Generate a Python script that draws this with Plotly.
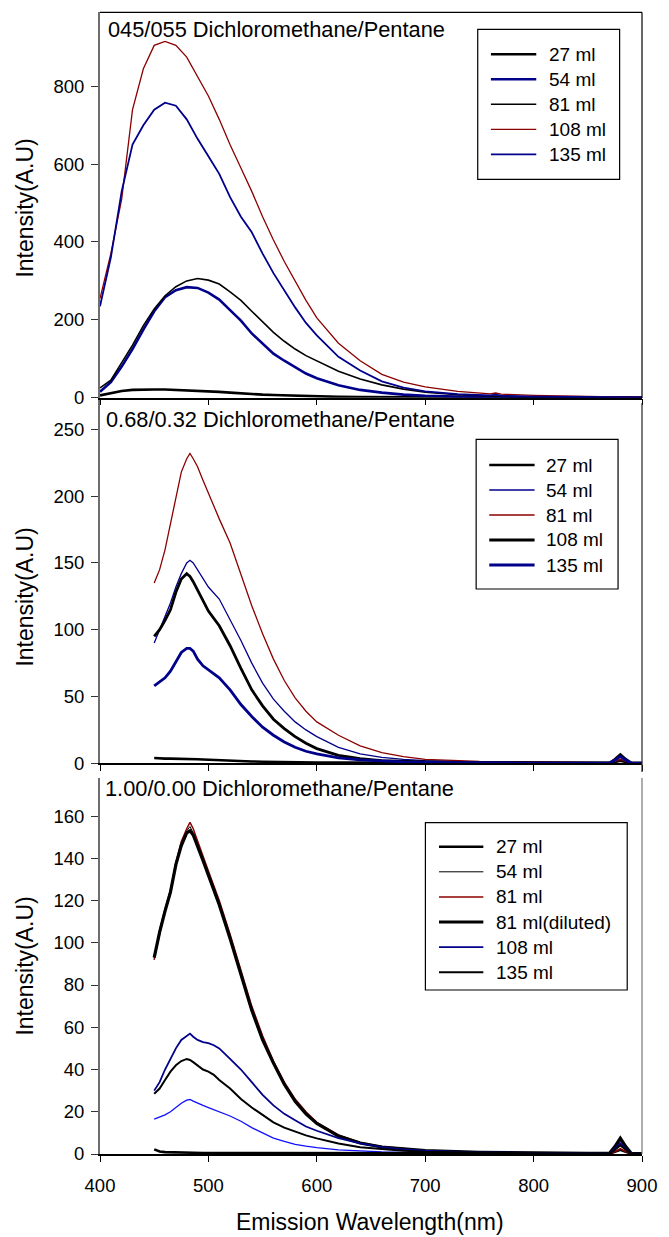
import plotly.graph_objects as go

# ---------------- Panel 1: 045/055 Dichloromethane/Pentane ----------------
wl_a = [400, 410, 420, 430, 440, 450, 460, 470, 480, 490, 500, 510, 520, 530, 540,
        550, 560, 570, 580, 590, 600, 620, 640, 660, 680, 700, 730, 760, 765, 770,
        800, 850, 900]
a_27 = [6, 12, 17, 20, 21, 21, 21, 20, 19, 18, 16, 15, 13, 11, 10,
        8, 7, 6, 5, 4, 3, 2, 1.5, 1, 1, 0.5, 0.5, 0.3, 0.3, 0.3,
        0.2, 0.1, 0]
a_54 = [15, 40, 80, 125, 175, 222, 258, 276, 284, 282, 270, 252, 225, 198, 165,
        140, 113, 95, 78, 62, 50, 32, 20, 13, 8, 5, 3, 2, 2, 2,
        1, 1, 0]
a_81 = [25, 45, 90, 135, 185, 228, 262, 285, 300, 306, 302, 292, 272, 250, 222,
        195, 168, 145, 125, 108, 95, 68, 48, 33, 22, 14, 8, 4, 4, 3,
        2, 1, 1]
a_108 = [255, 370, 510, 740, 845, 905, 915, 905, 875, 825, 775, 715, 650, 590, 530,
         465, 405, 350, 300, 250, 205, 140, 95, 60, 40, 28, 16, 10, 12, 9,
         6, 3, 1]
a_135 = [235, 360, 530, 650, 700, 740, 758, 750, 715, 665, 620, 575, 515, 465, 425,
         370, 320, 275, 232, 192, 160, 105, 70, 42, 26, 16, 9, 6, 8, 5,
         3, 2, 1]

# ---------------- Panel 2: 0.68/0.32 Dichloromethane/Pentane ----------------
wl_b = [450, 455, 460, 465, 470, 475, 480, 483, 486, 490, 495, 500, 510, 520, 530,
        540, 550, 560, 570, 580, 590, 600, 620, 640, 660, 680, 700, 750, 800, 850,
        870, 875, 880, 885, 890, 900]
b_27 = [4, 3.5, 3.5, 3.5, 3.5, 3.5, 3.5, 3.3, 3.2, 3, 2.8, 2.6, 2.3, 2, 1.7,
        1.4, 1.2, 1, 0.9, 0.8, 0.7, 0.6, 0.5, 0.4, 0.3, 0.3, 0.3, 0.3, 0.3, 0.3,
        0.3, 1, 2, 1, 0.3, 0.2]
b_54 = [90, 100, 110, 120, 132, 142, 150, 152, 150, 145, 138, 132, 123, 108, 92,
        75, 60, 48, 39, 31, 25, 20, 12, 7, 4.5, 3, 2, 1, 0.5, 0.3,
        0.3, 3, 6, 3, 0.3, 0.2]
b_81 = [135, 145, 160, 180, 200, 218, 228, 232, 228, 222, 212, 202, 183, 165, 142,
        118, 97, 78, 62, 49, 39, 31, 21, 13, 8, 5, 3, 1.5, 1, 0.5,
        0.5, 1.5, 3, 1.5, 0.5, 0.3]
b_108 = [95, 100, 107, 115, 128, 138, 142, 140, 136, 130, 122, 114, 103, 88, 71,
         55, 43, 33, 26, 20, 15, 11, 6, 3.5, 2, 1.5, 1, 0.5, 0.3, 0.2,
         0.2, 3, 6.5, 3, 0.3, 0.1]
b_135 = [58, 61, 64, 69, 76, 83, 86, 86, 84, 78, 73, 70, 64, 55, 44,
         35, 27, 21, 16, 12, 9, 7, 4, 2.5, 1.5, 1, 0.7, 0.3, 0.2, 0.1,
         0.1, 2.5, 5, 2.5, 0.2, 0.1]

# ---------------- Panel 3: 1.00/0.00 Dichloromethane/Pentane ----------------
wl_c = [450, 455, 460, 465, 470, 475, 480, 483, 486, 490, 495, 500, 505, 510, 520,
        530, 540, 550, 560, 570, 580, 590, 600, 620, 640, 660, 680, 700, 750, 800,
        850, 870, 875, 880, 885, 890, 900]
c_27 = [2.2, 1.2, 0.9, 0.8, 0.7, 0.7, 0.6, 0.6, 0.6, 0.6, 0.5, 0.5, 0.5, 0.5, 0.5,
        0.4, 0.4, 0.4, 0.4, 0.3, 0.3, 0.3, 0.3, 0.3, 0.3, 0.3, 0.3, 0.3, 0.2, 0.2,
        0.2, 0.2, 1, 2, 1, 0.2, 0.1]
c_54 = [92, 104, 115, 124, 137, 147, 153, 155, 152, 147, 140, 133, 126, 119, 103,
        86, 69, 55, 43, 33, 25.5, 19.5, 14.8, 8.8, 5.3, 3.4, 2.4, 1.6, 0.8, 0.4,
        0.3, 0.3, 3, 6, 3, 0.3, 0.2]
c_81 = [92, 106, 116, 125, 138, 148, 154, 157, 154, 148, 141, 134, 127, 120, 104,
        87, 70, 56, 44, 34, 26, 20, 15, 9, 5.5, 3.5, 2.5, 1.7, 0.8, 0.4,
        0.3, 0.3, 1, 2.5, 1, 0.3, 0.2]
c_81d = [93, 105, 115, 124, 137, 146, 152, 153, 151, 146, 139, 132, 125, 118, 102,
         85, 68, 54, 43, 33, 25, 19, 14.5, 8.5, 5.2, 3.3, 2.3, 1.6, 0.8, 0.4,
         0.3, 0.3, 3.5, 7.5, 3.5, 0.3, 0.2]
c_108 = [30, 34, 40, 45, 50, 54, 56, 57, 55.5, 54, 53, 52.5, 51.5, 50, 45,
         40, 34, 28, 23, 19, 16, 13, 11, 7.5, 5, 3.3, 2.2, 1.6, 0.8, 0.4,
         0.3, 0.3, 2.5, 5, 2.5, 0.3, 0.2]
c_135 = [28.5, 31, 35, 39, 42, 44, 45, 44.5, 43.5, 42, 40, 39, 37.5, 35, 31,
         26, 22, 18.5, 15, 12.5, 10.5, 8.8, 7.4, 5, 3.2, 2.2, 1.5, 1.1, 0.6, 0.3,
         0.2, 0.2, 2, 4, 2, 0.2, 0.1]
c_108b = [16.5, 17.5, 18.5, 20, 22, 24, 25.5, 25.8, 25, 24, 23, 22, 21, 20, 18,
          15.5, 12.5, 10, 7.5, 6, 4.6, 3.7, 3, 2, 1.4, 1, 0.8, 0.6, 0.3, 0.2,
          0.1, 0.1, 2.5, 5, 2.5, 0.1, 0]

panel_titles = ["045/055 Dichloromethane/Pentane",
                "0.68/0.32 Dichloromethane/Pentane",
                "1.00/0.00 Dichloromethane/Pentane"]
y_title = "Intensity(A.U)"
x_title = "Emission Wavelength(nm)"

BLACK = "#000000"
NAVY = "#00008B"
DARKRED = "#8B0000"
BLUE = "#1010FF"

# (name, wavelengths, intensities, colour, width, listed in key)
series_a = [("27 ml", wl_a, a_27, BLACK, 2.6, True),
            ("54 ml", wl_a, a_54, NAVY, 2.6, True),
            ("81 ml", wl_a, a_81, BLACK, 1.6, True),
            ("108 ml", wl_a, a_108, DARKRED, 1.3, True),
            ("135 ml", wl_a, a_135, NAVY, 1.8, True)]
series_b = [("27 ml", wl_b, b_27, BLACK, 2.6, True),
            ("54 ml", wl_b, b_54, NAVY, 1.3, True),
            ("81 ml", wl_b, b_81, DARKRED, 1.3, True),
            ("108 ml", wl_b, b_108, BLACK, 2.8, True),
            ("135 ml", wl_b, b_135, NAVY, 2.8, True)]
series_c = [("108 ml (b)", wl_c, c_108b, BLUE, 1.3, False),
            ("27 ml", wl_c, c_27, BLACK, 2.6, True),
            ("54 ml", wl_c, c_54, BLACK, 1.0, True),
            ("81 ml", wl_c, c_81, DARKRED, 1.5, True),
            ("81 ml(diluted)", wl_c, c_81d, BLACK, 3.2, True),
            ("108 ml", wl_c, c_108, NAVY, 1.8, True),
            ("135 ml", wl_c, c_135, BLACK, 2.0, True)]

W, H = 669, 1237
ML, MR, MT, MB = 100, 19, 12, 83
PW, PH = W - ML - MR, H - MT - MB


def clamp(v):
    return max(0.0, min(1.0, v))


def px(xp):
    return (xp - ML) / PW


def py(yp):
    return (H - MB - yp) / PH


FONT = "Liberation Sans, Arial, sans-serif"

fig = go.Figure()
axes = [("x", "y"), ("x2", "y2"), ("x3", "y3")]
for (xa, ya), group in zip(axes, [series_a, series_b, series_c]):
    for name, wl, val, color, width, _ in group:
        fig.add_trace(go.Scatter(
            x=wl, y=val, name=name, mode="lines",
            line=dict(color=color, width=width),
            xaxis=xa, yaxis=ya, showlegend=False,
        ))

tickfont = dict(family=FONT, size=18.5, color="#000000")

# vertical extents (pixel rows) of the three panels
panels = [(12.3, 397.7, 990, 200, "y", "x"),
          (400.0, 763.3, 272, 50, "y2", "x2"),
          (778.0, 1154.0, 178, 20, "y3", "x3")]

layout = dict(
    width=W, height=H,
    margin=dict(l=ML, r=MR, t=MT, b=MB),
    paper_bgcolor="white", plot_bgcolor="white",
    font=dict(family=FONT, color="#000000"),
    showlegend=False,
)

for i, (top, bot, ymax, dt, yname, xname) in enumerate(panels):
    ykey = "yaxis" if yname == "y" else "yaxis" + yname[1:]
    xkey = "xaxis" if xname == "x" else "xaxis" + xname[1:]
    layout[ykey] = dict(
        domain=[clamp(py(bot)), clamp(py(top))], range=[0, ymax], anchor=xname,
        dtick=dt, tick0=0, showgrid=False, zeroline=False,
        showline=True, linecolor="#6e6e6e", linewidth=2,
        ticks="outside", ticklen=7, tickwidth=1.2, tickcolor="#333333",
        tickfont=tickfont, ticklabelstandoff=3,
    )
    layout[xkey] = dict(
        domain=[0, 1], range=[400, 900], anchor=yname,
        dtick=100, tick0=400, showgrid=False, zeroline=False,
        showline=True, linecolor="#000000", linewidth=1.5,
        ticks="outside", ticklen=6, tickwidth=1.2, tickcolor="#000000",
        tickfont=tickfont, showticklabels=(i == 2), ticklabelstandoff=8,
    )

shapes = []
annotations = []

# keys: box (left, top, right, bottom), first row centre, row step,
# sample line start / end and text start (all in pixels)
keys = [((483.3, 29.3, 627.3, 179.3), 54.3, 25.0, 496.7, 542.7, 553.3, series_a),
        ((481.7, 439.3, 625.7, 589.0), 465.0, 25.0, 495.0, 541.0, 551.0, series_b),
        ((430.2, 822.7, 635.0, 990.0), 846.7, 25.1, 444.0, 489.0, 500.0, series_c)]
for (x0, y0, x1, y1), row0, step, lx0, lx1, tx, group in keys:
    shapes.append(dict(type="rect", xref="paper", yref="paper",
                       x0=px(x0), x1=px(x1), y0=py(y1), y1=py(y0),
                       line=dict(color="#000000", width=1.2),
                       fillcolor="white", layer="above"))
    listed = [s for s in group if s[5]]
    for k, (name, _, _, color, width, _) in enumerate(listed):
        ry = row0 + step * k
        shapes.append(dict(type="line", xref="paper", yref="paper",
                           x0=px(lx0), x1=px(lx1), y0=py(ry), y1=py(ry),
                           line=dict(color=color, width=width), layer="above"))
        annotations.append(dict(text=name, x=px(tx), y=py(ry), xref="paper", yref="paper",
                                xanchor="left", yanchor="middle", showarrow=False,
                                font=dict(family=FONT, size=19, color="#000000")))

# frame lines: top of panel 1 and right-hand borders
shapes.append(dict(type="line", xref="paper", yref="paper",
                   x0=0, x1=1, y0=py(12.3), y1=py(12.3),
                   line=dict(color="#000000", width=1.2)))
shapes.append(dict(type="line", xref="paper", yref="paper",
                   x0=1, x1=1, y0=py(398), y1=py(12.3),
                   line=dict(color="#000000", width=1.2)))
shapes.append(dict(type="line", xref="paper", yref="paper",
                   x0=1, x1=1, y0=py(772), y1=py(403),
                   line=dict(color="#222222", width=1.2)))
shapes.append(dict(type="line", xref="paper", yref="paper",
                   x0=1, x1=1, y0=py(1154), y1=py(778),
                   line=dict(color="#777777", width=1.2)))
layout["shapes"] = shapes

title_pos = [(106, 29.5), (104, 420), (103, 788.5)]
for t, (tx, ty) in zip(panel_titles, title_pos):
    annotations.append(dict(text=t, x=px(tx), y=py(ty), xref="paper", yref="paper",
                            xanchor="left", yanchor="middle", showarrow=False,
                            font=dict(family=FONT, size=21.8, color="#000000")))
for cy in [208, 597, 966]:
    annotations.append(dict(text=y_title, x=px(23.5), y=py(cy), xref="paper", yref="paper",
                            xanchor="center", yanchor="middle", textangle=-90,
                            showarrow=False,
                            font=dict(family=FONT, size=23, color="#000000")))
annotations.append(dict(text=x_title, x=px(374), y=py(1222), xref="paper", yref="paper",
                        xanchor="center", yanchor="middle", showarrow=False,
                        font=dict(family=FONT, size=23, color="#000000")))
layout["annotations"] = annotations

fig.update_layout(**layout)
fig.write_html("out.html")
